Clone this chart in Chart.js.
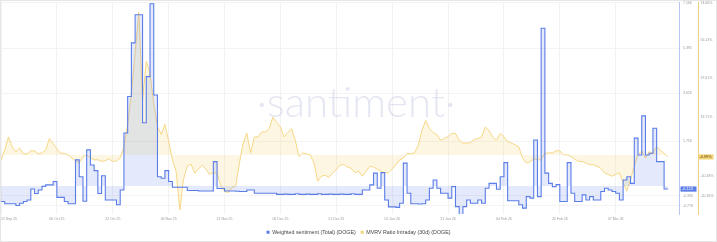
<!DOCTYPE html>
<html><head><meta charset="utf-8">
<script src="https://cdn.jsdelivr.net/npm/chart.js@4/dist/chart.umd.min.js"></script>
<style>
html,body{margin:0;padding:0;background:#fff;}
#wrap{position:relative;width:717px;height:242px;box-sizing:border-box;border:1px solid #e6e6e6;overflow:hidden;}
canvas{display:block;}
</style></head><body>
<div id="wrap"><canvas id="c" width="715" height="240"></canvas></div>
<script>
// ---- data ----
const startDate = '2025-09-21';
const dayCount = 183;
const xTickIndex = [0,15,30,45,60,75,90,105,120,135,150,165,182];
const xTickText = ['21 Sep 25','06 Oct 25','22 Oct 25','06 Nov 25','21 Nov 25','06 Dec 25','21 Dec 25','05 Jan 26','21 Jan 26','04 Feb 26','20 Feb 26','07 Mar 26',''];
const sentimentTicks = [7.166, 5.395, 3.626, 1.756, -0.390, -0.776];
const mvrvTicks = [74.66, 56.13, 37.61, 18.71, -10.48, -20.36];

const sentiment = [
-0.61,-0.70,-0.70,-0.70,-0.77,-0.68,-0.61,-0.55,-0.12,-0.30,
-0.16,-0.02,0.04,0.04,0.17,-0.45,-0.45,-0.61,-0.70,-0.70,
1.02,0.36,-0.60,1.41,0.82,0.60,-0.30,0.40,-0.55,-0.55,
-0.55,-0.74,-0.16,2.07,3.50,5.60,6.70,6.70,2.47,4.28,
7.13,3.56,0.36,0.30,0.60,0.17,-0.05,-0.05,-0.05,-0.05,
-0.18,-0.18,-0.18,-0.20,-0.20,-0.20,-0.20,0.95,-0.10,-0.10,
-0.20,-0.20,-0.20,-0.21,-0.22,-0.22,-0.16,-0.16,-0.29,-0.29,
-0.29,-0.29,-0.29,-0.29,-0.33,-0.33,-0.32,-0.33,-0.33,-0.31,
-0.33,-0.33,-0.32,-0.33,-0.33,-0.31,-0.33,-0.33,-0.32,-0.33,
-0.33,-0.32,-0.33,-0.33,-0.31,-0.33,-0.33,-0.16,-0.16,0.04,
0.50,-0.09,0.52,-0.55,-0.82,-0.82,-0.84,-0.68,0.89,-0.29,
-0.70,-0.70,-0.71,-0.70,-0.55,-0.09,0.23,-0.09,-0.29,-0.29,
-0.48,-0.03,-0.81,-1.13,-0.81,-0.55,-0.68,-0.68,-0.55,-0.68,
-0.09,0.10,0.10,-0.13,0.36,0.91,-0.58,-0.58,-0.58,-0.74,
-0.87,-0.42,-0.48,1.80,-0.42,6.17,0.50,0.10,-0.03,0.05,
-0.61,-0.61,0.91,-0.29,-0.61,-0.61,-0.35,-0.55,-0.42,-0.55,
-0.55,-0.22,-0.09,-0.16,-0.22,-0.29,-0.55,0.23,0.36,0.10,
1.87,1.21,2.74,1.21,1.28,2.26,0.95,0.95,-0.12,-0.123,
null,null,null
];

const mvrv = [
-2.4,2.4,8.8,4,1.6,3.4,0.5,0.5,2,2,
0.5,1,2.5,8,5.6,3,0.8,0.8,0,-1.6,
-3,-4,-1,0,-1.5,-2.4,-2.4,-3.2,-2.8,-2,
-3.2,-3,-1.5,4,15,30,50,70,27,46,
40,25,14,10,15,7,-2.4,-8,-27,-12,
-5.6,-4.5,-9,-7,-5,-7,-9.6,-8.8,-9,-15.3,
-18,-18.5,-16,-15.3,-4,5.8,10.6,1,8.8,8.8,
11.3,11.3,12.9,18.5,16,13.7,8.8,11,12.9,7.2,
-0.8,1,0.5,0,-4,-12.9,-10.5,-10,-11,-9,
-7.2,-5,-4.8,-6,-6.5,-8.8,-8,-10.5,-8,-5.6,
-6,-7,-8,-8.8,-8.8,-7,-4.8,-2.5,-1.6,0.8,
0.5,1,4.8,12,16.9,12.9,11,10,7.2,8,
9,10.5,10.5,7.2,5.8,5.8,6,7.5,8,8.8,
13.7,12,8.8,7.2,10.5,9,6.5,5.8,5,4,
-1.6,-4,-3.5,-2,-2.4,-2.4,0.8,1,1,2,
2,0,0,-0.8,-2,-3.2,-3.2,-4,-4.8,-4.8,
-5.6,-6.5,-8.8,-9.6,-10.5,-9.6,-8.8,-13.7,-17.7,-12,
-5.6,0,2,-1.6,1.6,0.8,4,2.4,0.8,-0.99,
null,null,null
];

// categories (days)
const days = [];
{ const d0 = new Date(startDate + 'T00:00:00Z');
  for (let i = 0; i < dayCount; i++) { const d = new Date(d0.getTime() + i*86400000); days.push(d.toISOString().slice(0,10)); } }

const BLUE = '#5b7de8', YEL = '#f5d47a';
const tickFont = {size:3.5, family:'Liberation Sans'};

const lastVal = arr => { for (let i = arr.length-1; i >= 0; i--) if (arr[i] !== null) return arr[i]; return null; };

const watermark = {
  id:'wm',
  beforeDatasetsDraw(chart){
    const c = chart.ctx; c.save();
    c.font = '300 42px Lato';
    c.fillStyle = 'rgba(170,178,215,0.32)';
    c.textAlign = 'center'; c.textBaseline = 'alphabetic';
    c.fillText('\u00B7santiment\u00B7', 355, 116);
    c.restore();
  }
};

const badges = {
  id:'badges',
  afterDraw(chart){
    const c = chart.ctx;
    const sS = chart.scales.yS, sM = chart.scales.yM;
    const vb = lastVal(sentiment), vm = lastVal(mvrv);
    c.save();
    c.font = '3.8px Liberation Sans'; c.textBaseline = 'middle'; c.textAlign = 'left';
    let y = sS.getPixelForValue(vb);
    c.fillStyle = BLUE; c.fillRect(sS.left + 1.5, y - 2.6, 16, 5.2);
    c.fillStyle = '#fff'; c.fillText(vb.toFixed(3), sS.left + 3, y + 0.2);
    y = sM.getPixelForValue(vm);
    c.fillStyle = YEL; c.fillRect(sM.left + 0.5, y - 2.6, 15, 5.2);
    c.fillStyle = '#5a4a10'; c.fillText(vm.toFixed(2) + '%', sM.left + 1.5, y + 0.2);
    c.restore();
  }
};

const defGen = Chart.defaults.plugins.legend.labels.generateLabels;

new Chart(document.getElementById('c'), {
  type:'line',
  data:{ labels: days, datasets:[
    { label:'Weighted sentiment (Total) (DOGE)', data: sentiment, yAxisID:'yS',
      borderColor: BLUE, backgroundColor:'rgba(95,128,232,0.17)', borderWidth:1.1,
      stepped:true, fill:'origin', pointRadius:0 },
    { label:'MVRV Ratio Intraday (30d) (DOGE)', data: mvrv, yAxisID:'yM',
      borderColor: YEL, backgroundColor:'rgba(245,212,122,0.22)', borderWidth:0.9,
      fill:'origin', pointRadius:0, tension:0 }
  ]},
  options:{
    responsive:false, animation:false,
    layout:{ padding:{ top:1, bottom:-4, left:0, right:0 } },
    plugins:{
      legend:{ position:'bottom',
        labels:{ boxWidth:3, boxHeight:3, padding:5, color:'#444', font:{size:5.3, family:'Liberation Sans'},
          generateLabels: ch => defGen(ch).map(l => Object.assign(l, {fillStyle: l.strokeStyle, lineWidth:0})) } },
      tooltip:{ enabled:false }
    },
    scales:{
      x:{ type:'category', offset:false,
        grid:{ color:'#f2f2f2', drawTicks:false }, border:{ display:false },
        ticks:{ autoSkip:false, maxRotation:0, align:'inner', padding:3, color:'#9a9a9a', font:tickFont,
          callback:(v) => { const k = xTickIndex.indexOf(v); return k >= 0 ? xTickText[k] : null; } },
        afterBuildTicks: s => { s.ticks = xTickIndex.map(v => ({value:v})); },
        afterFit: s => { s.height = 10.7; s.paddingLeft = 0; s.paddingRight = 0; }
      },
      yS:{ position:'right', min:-1.1, max:7.2,
        grid:{ color:'#f3f3f3', drawTicks:false }, border:{ color:'#b8c5f2' },
        ticks:{ padding:4, color:'#9a9a9a', font:tickFont, callback: v => v.toFixed(3) },
        afterBuildTicks: s => { s.ticks = sentimentTicks.map(v => ({value:v})); },
        afterFit: s => { s.width = 19; s.paddingTop = 0; s.paddingBottom = 0; }
      },
      yM:{ position:'right', min:-29, max:75,
        grid:{ display:false, drawTicks:false }, border:{ color:'#f0d27a' },
        ticks:{ padding:2.5, color:'#9a9a9a', font:tickFont, callback: v => v.toFixed(2) + '%' },
        afterBuildTicks: s => { s.ticks = mvrvTicks.map(v => ({value:v})); },
        afterFit: s => { s.width = 18; s.paddingTop = 0; s.paddingBottom = 0; }
      }
    }
  },
  plugins:[watermark, badges]
});
</script>
</body></html>
